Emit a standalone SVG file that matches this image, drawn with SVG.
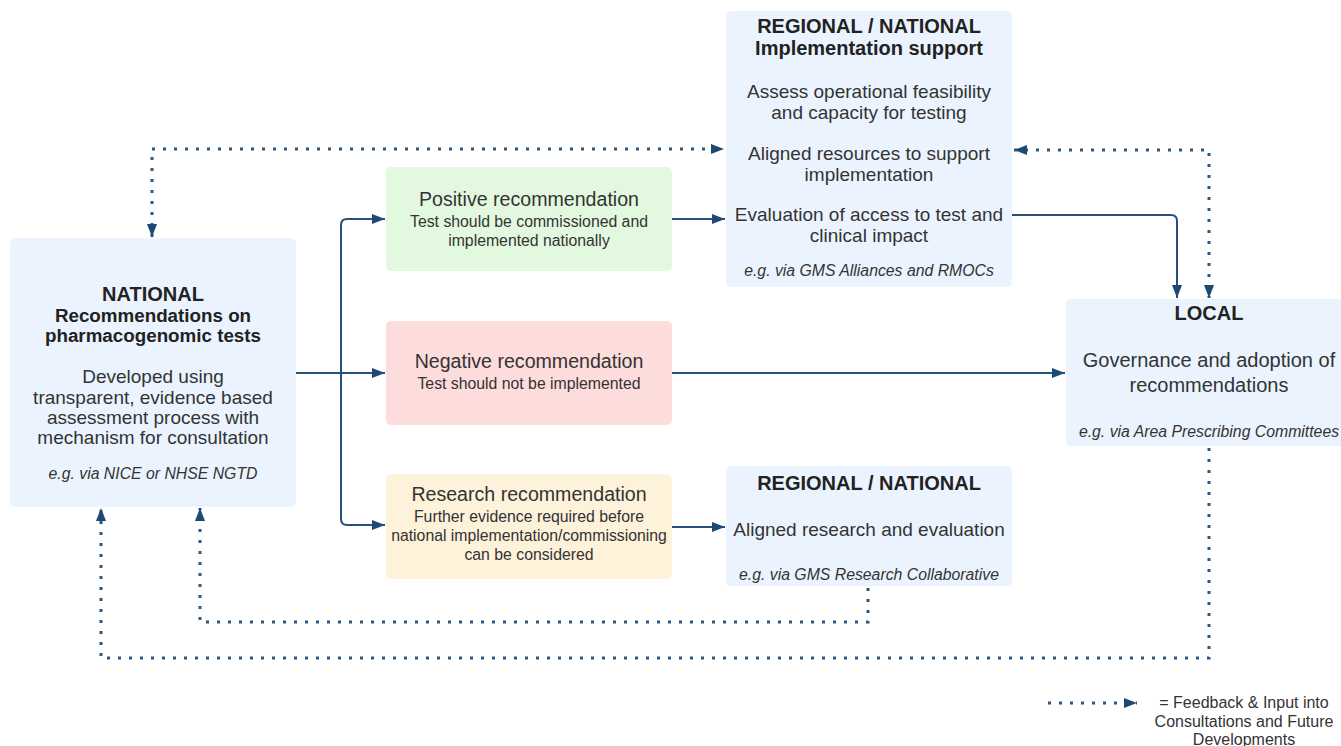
<svg xmlns="http://www.w3.org/2000/svg" width="1341" height="746" viewBox="0 0 1341 746">
<style>
text{font-family:"Liberation Sans",Arial,sans-serif;fill:#333;text-anchor:middle}
.h{font-weight:bold;font-size:20px;fill:#222}
.hb{font-weight:bold;font-size:18.8px;fill:#222}
.t{font-size:19.6px}
.b{font-size:19px}
.s{font-size:15.8px}
.i{font-style:italic;font-size:15.8px}
.blue{fill:#ebf4fe}
.solid{fill:none;stroke:#26507a;stroke-width:2}
.dot{fill:none;stroke:#2b5783;stroke-width:3;stroke-dasharray:3 8}
</style>
<defs>
<marker id="ah" markerUnits="userSpaceOnUse" markerWidth="14" markerHeight="12" refX="13" refY="5" orient="auto-start-reverse">
<path d="M0,0 L13,5 L0,10 z" fill="#1d4a74"/>
</marker>
</defs>
<rect width="1341" height="746" fill="#fff"/>

<g id="national">
<rect class="blue" x="10" y="238" width="286" height="269" rx="6"/>
<text class="h" x="153" y="301">NATIONAL</text>
<text class="hb" x="153" y="322">Recommendations on</text>
<text class="hb" x="153" y="342">pharmacogenomic tests</text>
<text class="b" x="153" y="383">Developed using</text>
<text class="b" x="153" y="404">transparent, evidence based</text>
<text class="b" x="153" y="424">assessment process with</text>
<text class="b" x="153" y="444">mechanism for consultation</text>
<text class="i" x="153" y="479">e.g. via NICE or NHSE NGTD</text>
</g>

<g id="positive">
<rect x="386" y="167" width="286" height="104" rx="5" fill="#e3f9df"/>
<text class="t" x="529" y="206">Positive recommendation</text>
<text class="s" x="529" y="227">Test should be commissioned and</text>
<text class="s" x="529" y="246">implemented nationally</text>
</g>

<g id="negative">
<rect x="386" y="321" width="286" height="104" rx="5" fill="#fddcdc"/>
<text class="t" x="529" y="368">Negative recommendation</text>
<text class="s" x="529" y="389">Test should not be implemented</text>
</g>

<g id="research">
<rect x="386" y="474" width="286" height="105" rx="5" fill="#fef2da"/>
<text class="t" x="529" y="501">Research recommendation</text>
<text class="s" x="529" y="522">Further evidence required before</text>
<text class="s" x="529" y="541">national implementation/commissioning</text>
<text class="s" x="529" y="560">can be considered</text>
</g>

<g id="regional-impl">
<rect class="blue" x="726" y="11" width="286" height="276" rx="5"/>
<text class="h" x="869" y="33">REGIONAL / NATIONAL</text>
<text class="h" x="869" y="55">Implementation support</text>
<text class="b" x="869" y="98">Assess operational feasibility</text>
<text class="b" x="869" y="119">and capacity for testing</text>
<text class="b" x="869" y="160">Aligned resources to support</text>
<text class="b" x="869" y="181">implementation</text>
<text class="b" x="869" y="221">Evaluation of access to test and</text>
<text class="b" x="869" y="242">clinical impact</text>
<text class="i" x="869" y="276">e.g. via GMS Alliances and RMOCs</text>
</g>

<g id="regional-research">
<rect class="blue" x="726" y="466" width="286" height="120" rx="5"/>
<text class="h" x="869" y="490">REGIONAL / NATIONAL</text>
<text class="b" x="869" y="536">Aligned research and evaluation</text>
<text class="i" x="869" y="580">e.g. via GMS Research Collaborative</text>
</g>

<g id="local">
<rect class="blue" x="1066" y="299" width="290" height="147" rx="5"/>
<text class="h" x="1209" y="320">LOCAL</text>
<text class="t" x="1209" y="367" style="font-size:20px">Governance and adoption of</text>
<text class="t" x="1209" y="392" style="font-size:20px">recommendations</text>
<text class="i" x="1209" y="437">e.g. via Area Prescribing Committees</text>
</g>

<g id="connectors">
<path class="solid" d="M296,373 H341" stroke-width="3"/>
<path class="solid" d="M341,373 V225 Q341,219 347,219 H385" marker-end="url(#ah)"/>
<path class="solid" d="M341,373 H385" marker-end="url(#ah)"/>
<path class="solid" d="M341,373 V519 Q341,525 347,525 H385" marker-end="url(#ah)"/>
<path class="solid" d="M672,219 H725" marker-end="url(#ah)"/>
<path class="solid" d="M672,373 H1065" marker-end="url(#ah)"/>
<path class="solid" d="M672,527 H725" marker-end="url(#ah)"/>
<path class="solid" d="M1012,215 H1171 Q1177,215 1177,221 V298" marker-end="url(#ah)"/>
<path class="dot" d="M152,237 V149 H724" marker-start="url(#ah)" marker-end="url(#ah)"/>
<path class="dot" d="M1014,150 H1209 V298" marker-start="url(#ah)" marker-end="url(#ah)"/>
<path class="dot" d="M868,588 V622 H200 V508" marker-end="url(#ah)"/>
<path class="dot" d="M1209,448 V658 H101 V508" marker-end="url(#ah)"/>
</g>

<g id="legend">
<path class="dot" d="M1048,703 H1137" marker-end="url(#ah)"/>
<text style="font-size:16px" x="1244" y="708">= Feedback &amp; Input into</text>
<text style="font-size:16px" x="1244" y="727">Consultations and Future</text>
<text style="font-size:16px" x="1244" y="745">Developments</text>
</g>
</svg>
